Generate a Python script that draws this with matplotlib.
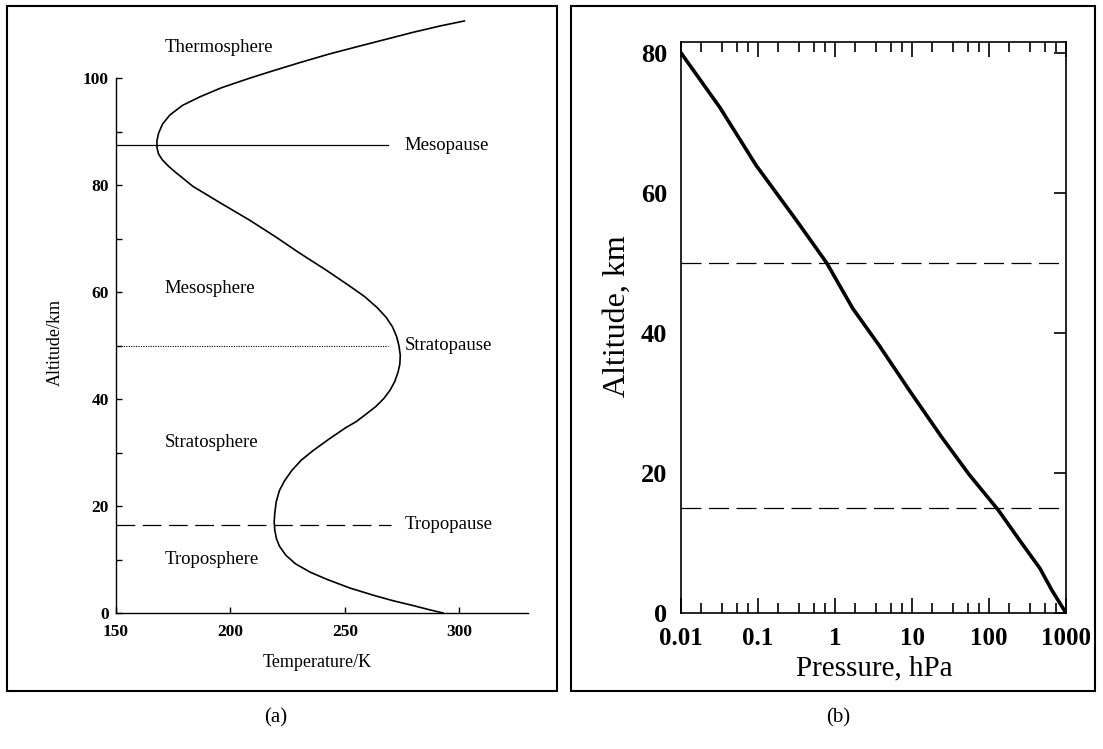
import matplotlib
matplotlib.use("Agg")
import matplotlib.pyplot as plt
from matplotlib.patches import Rectangle
from matplotlib.ticker import LogLocator, NullFormatter, FixedLocator

plt.rcParams['font.family'] = ['Liberation Serif', 'DejaVu Serif']

# (a) temperature profile
temp_k = [302.2, 292.0, 280.0, 266.4, 256.4, 243.0, 230.2, 218.0, 208.4, 196.0,
          186.6, 179.0, 173.5, 170.3, 168.6, 167.9, 167.9, 168.6, 170.3, 172.8,
          176.0, 179.5, 183.5, 195.5, 208.2, 219.5, 230.2, 241.5, 251.7, 258.5,
          264.1, 268.0, 270.8, 272.6, 273.6, 274.2, 274.0, 273.2, 271.8, 269.8,
          267.0, 263.5, 259.0, 255.0, 250.2, 243.0, 236.2, 231.0, 226.9, 223.6,
          221.4, 220.0, 219.4, 219.1, 219.4, 220.1, 221.4, 224.2, 228.4, 235.0,
          242.4, 252.0, 262.6, 271.0, 279.7, 287.0, 292.9]
alt_a = [110.7, 109.8, 108.6, 107.1, 106.0, 104.5, 102.9, 101.3, 100.0, 98.2,
         96.5, 94.9, 93.1, 91.4, 89.7, 88.3, 87.0, 85.8, 84.7, 83.6,
         82.4, 81.2, 79.8, 76.7, 73.5, 70.4, 67.3, 64.2, 61.25, 59.2,
         57.1, 55.3, 53.5, 51.7, 50.0, 48.2, 46.5, 45.0, 43.3, 41.7,
         40.1, 38.6, 37.1, 35.8, 34.6, 32.5, 30.4, 28.6, 26.7, 24.7,
         22.9, 20.8, 18.75, 17.0, 15.4, 13.9, 12.5, 10.8, 9.2, 7.6,
         6.25, 4.7, 3.3, 2.3, 1.4, 0.6, 0.0]

layer_names = ['Thermosphere', 'Mesosphere', 'Stratosphere', 'Troposphere']
layer_alt = [105.8, 60.6, 31.8, 10.0]
pause_names = ['Mesopause', 'Stratopause', 'Tropopause']
pause_alt = [87.5, 50.0, 16.5]

# (b) pressure profile
pressure_hpa = [0.01, 0.032, 0.095, 0.31, 0.78, 1.7, 3.7, 9.5, 24, 55,
                132, 257, 457, 660, 1000]
alt_b = [80, 72.2, 63.9, 56.2, 50, 43.5, 38.3, 31.6, 25.2, 19.8,
         14.7, 10.2, 6.4, 3.2, 0]
bound_alt = [50, 15]

W, H = 1103, 749
fig = plt.figure(figsize=(W / 100, H / 100), dpi=100)

# frames around both panels
fig.patches.append(Rectangle((7 / W, 1 - 691 / H), 550 / W, 685 / H, fill=False,
                             lw=1.5, ec='black', transform=fig.transFigure))
fig.patches.append(Rectangle((571 / W, 1 - 691 / H), 524 / W, 685 / H, fill=False,
                             lw=1.5, ec='black', transform=fig.transFigure))

# ---- panel (a)
ax = fig.add_axes([116 / W, 136 / H, 412 / W, 599 / H])
ax.plot(temp_k, alt_a, color='black', lw=1.2)
ax.set_xlim(150, 330)
ax.set_ylim(0, 112)
for s in ['top', 'right']:
    ax.spines[s].set_visible(False)
ax.spines['left'].set_bounds(0, 100)
ax.spines['left'].set_linewidth(1.0)
ax.spines['bottom'].set_linewidth(1.0)
ax.set_xticks([150, 200, 250, 300])
ax.set_yticks([0, 20, 40, 60, 80, 100])
ax.yaxis.set_minor_locator(FixedLocator([10, 30, 50, 70, 90]))
ax.tick_params(direction='in', length=4, width=1.0, labelsize=12.5)
ax.tick_params(axis='x', pad=8)
ax.tick_params(axis='y', pad=5)
ax.tick_params(axis='y', which='minor', direction='in', length=4, width=1.0)
for lab in ax.get_xticklabels() + ax.get_yticklabels():
    lab.set_fontweight('bold')

ax.plot([150, 269], [pause_alt[0]] * 2, color='black', lw=0.9)
ax.plot([150, 269], [pause_alt[1]] * 2, color='black', lw=0.8, ls=(0, (1, 1.2)))
ax.plot([150, 270], [pause_alt[2]] * 2, color='black', lw=0.9, ls=(0, (15, 6)))
for name, z in zip(layer_names, layer_alt):
    ax.text(171.3, z, name, fontsize=13.5, ha='left', va='center')
for name, z in zip(pause_names, pause_alt):
    ax.text(276, z, name, fontsize=13.5, ha='left', va='center')

ax.text(0.488, -0.082, 'Temperature/K', transform=ax.transAxes, fontsize=13,
        ha='center', va='center')
ax.text(-0.148, 0.452, 'Altitude/km', transform=ax.transAxes, fontsize=13,
        ha='center', va='center', rotation=90)

# ---- panel (b)
bx = fig.add_axes([681 / W, 136 / H, 385 / W, 571.3 / H])
bx.plot(pressure_hpa, alt_b, color='black', lw=2.6)
for z in bound_alt:
    bx.axhline(z, color='black', lw=0.9, dashes=(16, 6))
bx.set_xscale('log')
bx.set_xlim(0.01, 1000)
bx.set_ylim(0, 81.6)
for s in bx.spines.values():
    s.set_linewidth(1.2)
bx.set_xticks([0.01, 0.1, 1, 10, 100, 1000])
bx.set_xticklabels(['0.01', '0.1', '1', '10', '100', '1000'])
bx.xaxis.set_minor_locator(LogLocator(base=10, subs=(1.8, 3.4, 5.4, 7.4)))
bx.xaxis.set_minor_formatter(NullFormatter())
bx.set_yticks([0, 20, 40, 60, 80])
bx.tick_params(axis='x', which='major', direction='in', top=True, length=11,
               width=1.2, labelsize=18, pad=10)
bx.tick_params(axis='x', which='minor', direction='in', top=True, length=7,
               width=1.2)
bx.tick_params(axis='y', direction='in', left=False, right=True, labelleft=True,
               length=9, width=1.2, labelsize=19, pad=10)
for lab in bx.get_xticklabels() + bx.get_yticklabels():
    lab.set_fontweight('bold')

bx.text(0.503, -0.097, 'Pressure, hPa', transform=bx.transAxes, fontsize=21,
        ha='center', va='center')
bx.text(-0.165, 0.52, 'Altitude, km', transform=bx.transAxes, fontsize=23,
        ha='center', va='center', rotation=90)

fig.text(276 / W, 1 - 718 / H, '(a)', fontsize=15, ha='center', va='center')
fig.text(838 / W, 1 - 718 / H, '(b)', fontsize=15, ha='center', va='center')

fig.savefig('out.png', dpi=100)
